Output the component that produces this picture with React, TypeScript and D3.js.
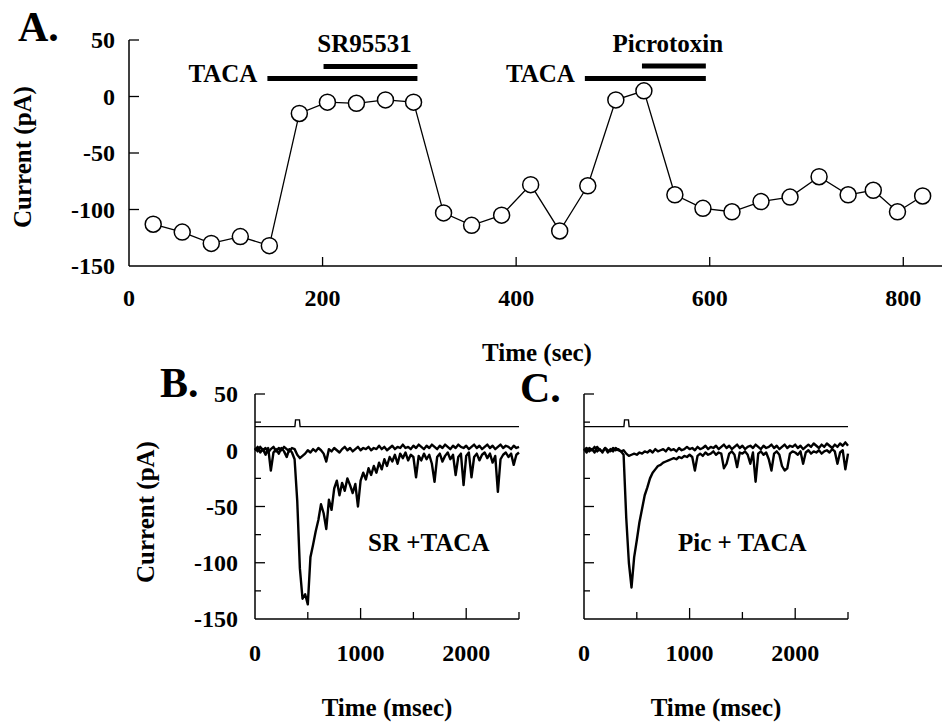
import React from 'react';
import * as d3 from 'd3';

// Panel A: peak current vs. time
const timeCourseSec = [25, 55, 85, 115, 145, 176, 205, 235, 265, 294, 325, 354, 385, 415, 445, 474, 503, 532, 564, 593, 623, 653, 683, 713, 743, 769, 794, 820];
const timeCoursePA = [-113, -120, -130, -124, -132, -15, -5, -6, -3, -5, -103, -114, -105, -78, -119, -79, -3, 5, -87, -99, -102, -93, -89, -71, -87, -83, -102, -88];

// drug application bars (seconds)
const drugNames = ['TACA', 'SR95531', 'TACA', 'Picrotoxin'];
const drugOn = [143, 201, 471, 530];
const drugOff = [298, 298, 596, 596];

// Panels B and C: current traces (msec, pA)
const traceMs = [0, 25, 50, 75, 100, 125, 150, 175, 200, 225, 250, 275, 300, 325, 350, 375, 400, 425, 450, 475, 500, 525, 550, 575, 600, 625, 650, 675, 700, 725, 750, 775, 800, 825, 850, 875, 900, 925, 950, 975, 1000, 1025, 1050, 1075, 1100, 1125, 1150, 1175, 1200, 1225, 1250, 1275, 1300, 1325, 1350, 1375, 1400, 1425, 1450, 1475, 1500, 1525, 1550, 1575, 1600, 1625, 1650, 1675, 1700, 1725, 1750, 1775, 1800, 1825, 1850, 1875, 1900, 1925, 1950, 1975, 2000, 2025, 2050, 2075, 2100, 2125, 2150, 2175, 2200, 2225, 2250, 2275, 2300, 2325, 2350, 2375, 2400, 2425, 2450, 2475, 2500];

const srControl = [2, -1, 3, 0, 2, -2, 1, 3, -1, 2, 0, 3, 1, -1, 2, 1, -4, -7, -5, -3, 0, -2, 1, -1, 2, 0, -3, -10, 1, -1, 2, 0, -2, 1, 3, 0, 2, -1, 1, 3, 0, 2, 1, 3, 0, 2, 1, 4, 1, 3, 0, 2, 4, 1, 3, 2, 5, 2, 3, 1, 4, 2, 5, 3, 1, 4, 2, 5, 3, 1, 4, 2, 5, 3, 1, 4, 2, 5, 3, 2, 4, 1, 3, 5, 2, 4, 1, 3, 5, 2, 4, 1, 3, 5, 2, 4, 3, 1, 4, 2, 3];
const srTaca = [0, 3, -2, 1, -4, 2, -18, -2, 1, -3, 2, -1, -6, 1, -2, -8, -45, -105, -132, -128, -137, -95, -84, -72, -62, -48, -56, -70, -44, -53, -34, -27, -40, -29, -36, -25, -31, -38, -30, -50, -27, -20, -26, -16, -22, -14, -20, -11, -17, -8, -14, -6, -10, -4, -12, -3, -7, -2, -9, -4, -6, -24, -5, -9, -3, -8, -4, -12, -28, -6, -3, -10, -5, -2, -8, -4, -22, -6, -3, -31, -5, -2, -24, -6, -3, -9, -4, -2, -7, -3, -11, -5, -37, -8, -4, -2, -6, -3, -13, -4, -2];

const picControl = [1, -2, 2, 0, 3, -1, 1, -2, 2, 0, -1, 2, 0, 1, -1, 0, -3, -5, -4, -3, -4, -2, -3, -1, -2, 0, -2, 1, -1, 0, 1, -1, 2, 0, 1, -1, 2, 0, 1, 3, 1, 2, 0, 3, 1, 2, 4, 1, 3, 2, 4, 1, 3, 5, 2, 4, 1, 3, 5, 2, 4, 1, 3, 4, 2, 5, 3, 1, 4, 2, 3, 5, 2, 4, 1, 3, 5, 2, 4, 3, 5, 2, 4, 1, 3, 5, 3, 6, 4, 2, 5, 3, 6, 4, 2, 5, 3, 6, 4, 7, 4];
const picTaca = [0, 2, -1, 1, -2, 3, 0, -1, 2, -2, 1, -1, 2, 0, -1, -4, -60, -100, -122, -95, -80, -64, -52, -40, -33, -25, -20, -17, -14, -13, -11, -10, -9, -8, -7, -8, -6, -7, -5, -6, -4, -6, -18, -5, -3, -5, -2, -4, -3, -1, -4, -2, -3, -16, -12, -3, -1, -4, -15, -2, -3, -1, -4, -12, -2, -28, -3, -1, -4, -2, -8, -18, -3, -1, -4, -14, -18, -16, -3, -1, -2, -4, -1, -12, -2, 0, -3, -1, -2, 0, -3, -1, 0, -2, 1, -1, -12, -2, 0, -17, -3];

const stimMs = [0, 378, 384, 421, 427, 2500];
const stimPA = [21, 21, 27, 27, 21, 21];

const aYTicks = [50, 0, -50, -100];
const aYLabels = [50, 0, -50, -100, -150];
const aXTicks = [200, 400, 600, 800];
const aXLabels = [0, 200, 400, 600, 800];
const bYMajor = [50, 0, -50, -100];
const bYMinor = [25, -25, -75, -125];
const bYLabels = [50, 0, -50, -100, -150];
const bXMajor = [1000, 2000];
const bXMinor = [500, 1500, 2500];
const bXLabels = [0, 1000, 2000];

const FONT = "'Liberation Serif', 'DejaVu Serif', serif";

const xA = d3.scaleLinear().domain([0, 840]).range([129, 942]);
const yA = d3.scaleLinear().domain([-150, 50]).range([266, 40]);
const yTrace = d3.scaleLinear().domain([-150, 50]).range([619, 394]);
const xB = d3.scaleLinear().domain([0, 2500]).range([255, 519]);
const xC = d3.scaleLinear().domain([0, 2500]).range([584, 848]);

const txt = { fontFamily: FONT, fontWeight: 700 } as const;

function TracePanel({ x, control, response, showYLabels, note, noteX }: any) {
  const line = d3.line<number>().x((_, i) => x(traceMs[i])).y(d => yTrace(d));
  const stimLine = d3.line<number>().x((_, i) => x(stimMs[i])).y(d => yTrace(d));
  const x0 = x(0);
  const yBot = yTrace(-150);
  return (
    <g>
      <line x1={x0} x2={x0} y1={yTrace(50)} y2={yBot} stroke="#000" strokeWidth={1.5} />
      <line x1={x0} x2={x(2500)} y1={yBot} y2={yBot} stroke="#000" strokeWidth={1.5} />
      {bYMajor.map(t => <line key={'M' + t} x1={x0} x2={x0 + 10} y1={yTrace(t)} y2={yTrace(t)} stroke="#000" strokeWidth={1.3} />)}
      {bYMinor.map(t => <line key={'m' + t} x1={x0} x2={x0 + 6} y1={yTrace(t)} y2={yTrace(t)} stroke="#000" strokeWidth={1.3} />)}
      {bXMajor.map(t => <line key={'X' + t} x1={x(t)} x2={x(t)} y1={yBot} y2={yBot - 11} stroke="#000" strokeWidth={1.3} />)}
      {bXMinor.map(t => <line key={'x' + t} x1={x(t)} x2={x(t)} y1={yBot} y2={yBot - 7} stroke="#000" strokeWidth={1.3} />)}
      {showYLabels && bYLabels.map(t => (
        <text key={'L' + t} x={238} y={yTrace(t)} dy="0.35em" textAnchor="end" fontSize={24} style={txt}>{t}</text>
      ))}
      {bXLabels.map(t => (
        <text key={'T' + t} x={x(t)} y={661} textAnchor="middle" fontSize={24} style={txt}>{t}</text>
      ))}
      <text x={(x0 + x(2500)) / 2} y={716} textAnchor="middle" fontSize={25} style={txt}>Time (msec)</text>
      <path d={stimLine(stimPA) || ''} fill="none" stroke="#000" strokeWidth={1.4} />
      <path d={line(control) || ''} fill="none" stroke="#000" strokeWidth={2.4} strokeLinejoin="round" />
      <path d={line(response) || ''} fill="none" stroke="#000" strokeWidth={2.4} strokeLinejoin="round" />
      <text x={noteX} y={551} fontSize={25} style={txt}>{note}</text>
    </g>
  );
}

export default function App() {
  const lineA = d3.line<number>().x((_, i) => xA(timeCourseSec[i])).y(d => yA(d));
  const rowY = [yA(16), yA(26.5), yA(16), yA(27)];
  return (
    <svg width={942} height={725} style={{ position: 'absolute', left: 0, top: 0, background: '#fff', fontFamily: FONT }}
      fill="#000">
      {/* Panel A */}
      <text x={18} y={41} fontSize={42} style={txt}>A.</text>
      <line x1={129} x2={129} y1={yA(50)} y2={yA(-150)} stroke="#000" strokeWidth={1.5} />
      <line x1={129} x2={942} y1={yA(-150)} y2={yA(-150)} stroke="#000" strokeWidth={1.5} />
      {aYTicks.map(t => <line key={t} x1={129} x2={139} y1={yA(t)} y2={yA(t)} stroke="#000" strokeWidth={1.3} />)}
      {aXTicks.map(t => <line key={t} x1={xA(t)} x2={xA(t)} y1={yA(-150)} y2={yA(-150) - 9} stroke="#000" strokeWidth={1.3} />)}
      {aYLabels.map(t => (
        <text key={t} x={115} y={yA(t)} dy="0.35em" textAnchor="end" fontSize={24} style={txt}>{t}</text>
      ))}
      {aXLabels.map(t => (
        <text key={t} x={xA(t)} y={306} textAnchor="middle" fontSize={24} style={txt}>{t}</text>
      ))}
      <text transform="translate(31,157) rotate(-90)" textAnchor="middle" fontSize={25} style={txt}>Current (pA)</text>
      <text x={537} y={361} textAnchor="middle" fontSize={25} style={txt}>Time (sec)</text>

      {drugNames.map((name, i) => (
        <line key={'bar' + i} x1={xA(drugOn[i])} x2={xA(drugOff[i])} y1={rowY[i]} y2={rowY[i]} stroke="#000" strokeWidth={5} />
      ))}
      {drugNames.map((name, i) => i % 2 === 0 ? (
        <text key={'lab' + i} x={xA(drugOn[i]) - 10} y={82} textAnchor="end" fontSize={25} style={txt}>{name}</text>
      ) : (
        <text key={'lab' + i} x={(xA(drugOn[i]) + xA(drugOff[i])) / 2 - 6} y={52} textAnchor="middle" fontSize={25} style={txt}>{name}</text>
      ))}

      <path d={lineA(timeCoursePA) || ''} fill="none" stroke="#000" strokeWidth={1.3} />
      {timeCoursePA.map((v, i) => (
        <circle key={i} cx={xA(timeCourseSec[i])} cy={yA(v)} r={8} fill="#fff" stroke="#000" strokeWidth={1.5} />
      ))}

      {/* Panel B */}
      <text x={160} y={397} fontSize={42} style={txt}>B.</text>
      <text transform="translate(154,512) rotate(-90)" textAnchor="middle" fontSize={25} style={txt}>Current (pA)</text>
      <TracePanel x={xB} control={srControl} response={srTaca} showYLabels note="SR +TACA" noteX={368} />

      {/* Panel C */}
      <text x={520} y={402} fontSize={42} style={txt}>C.</text>
      <TracePanel x={xC} control={picControl} response={picTaca} showYLabels={false} note="Pic + TACA" noteX={678} />
    </svg>
  );
}
